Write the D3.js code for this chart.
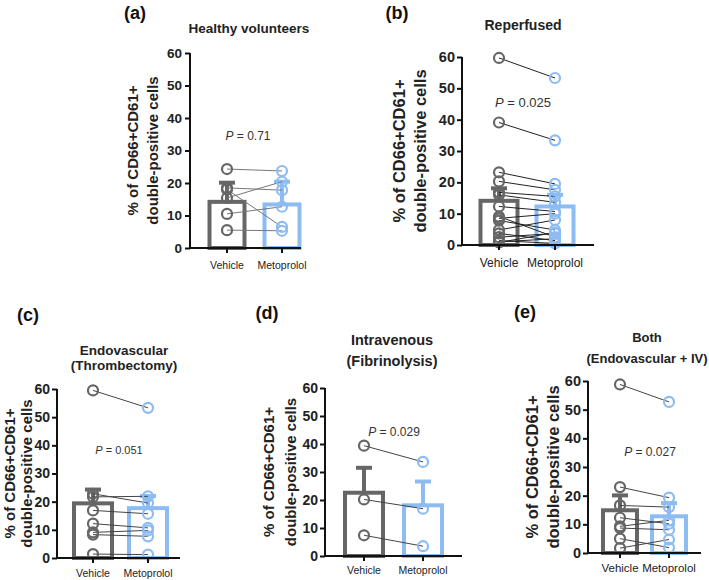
<!DOCTYPE html>
<html><head><meta charset="utf-8">
<script src="https://cdn.jsdelivr.net/npm/d3@7"></script>
<style>body{margin:0;background:#fff}svg{display:block}</style>
</head><body>
<svg id="chart" width="709" height="580"></svg>
<script>
// ---------- data ----------
const groups = ["Vehicle", "Metoprolol"];
const yTicks = [0, 10, 20, 30, 40, 50, 60];

const healthyVehicle    = [24.3, 18.5, 18.0, 15.4, 10.5, 5.5];
const healthyMetoprolol = [23.7, 17.8, 6.5, 20.4, 12.7, 5.3];
const healthyMean = [14.2, 13.4];
const healthyErrTop = [20.1, 20.4];
const healthyP = "0.71";

const reperfVehicle    = [59.7, 39.1, 23.2, 20.3, 16.8, 16.0, 12.3, 9.1, 8.5, 7.8, 4.8, 3.7, 2.5, 1.4, 1.0, 0.8];
const reperfMetoprolol = [53.3, 33.4, 19.5, 17.6, 15.5, 13.6, 10.7, 2.5, 10.0, 4.8, 8.0, 1.4, 3.7, 0.5, 2.0, 4.0];
const reperfMean = [14.1, 12.3];
const reperfErrTop = [18.1, 16.0];
const reperfP = "0.025";

const endoVehicle    = [59.5, 22.8, 21.7, 16.9, 12.2, 9.1, 8.3, 1.4];
const endoMetoprolol = [53.3, 19.5, 21.9, 15.7, 10.7, 9.8, 7.7, 1.2];
const endoMean = [19.4, 17.7];
const endoErrTop = [24.3, 22.0];
const endoP = "0.051";

const ivVehicle    = [39.4, 20.2, 7.4];
const ivMetoprolol = [33.6, 16.9, 3.5];
const ivMean = [22.6, 18.1];
const ivErrTop = [31.5, 26.6];
const ivP = "0.029";

const bothVehicle    = [58.8, 23.0, 16.6, 12.3, 9.3, 8.7, 5.0, 1.7];
const bothMetoprolol = [52.7, 19.3, 16.0, 10.2, 11.4, 8.1, 1.9, 4.7];
const bothMean = [14.9, 12.8];
const bothErrTop = [20.1, 17.4];
const bothP = "0.027";

// ---------- layout ----------
const narrow = "'Liberation Sans Narrow','Liberation Sans',Arial";
const panels = [
  {letter:"(a)", lx:135, ly:13, title:["Healthy volunteers"], tx:249, ty:[28], tFont:13.5,
   x0:190, x1:301, yTop:53, yBot:248, vx:227, mx:282, bw:35, ylx:[132,152], ylFont:15, tkFont:13.5, tkPad:3,
   xlFont:"10.5px", xlFam:narrow, xly:265, px:248, py:136, pFont:"12px",
   v:healthyVehicle, m:healthyMetoprolol, mean:healthyMean, err:healthyErrTop, p:healthyP, line:"#777"},
  {letter:"(b)", lx:397, ly:13, title:["Reperfused"], tx:523, ty:[25], tFont:14,
   x0:462, x1:594, yTop:57, yBot:245, vx:499, mx:555, bw:37, ylx:[399,420], ylFont:16.5, tkFont:14.5, tkPad:2,
   xlFont:"12px", xlFam:"'Liberation Sans',Arial", xly:263, px:523, py:102, pFont:"13px",
   v:reperfVehicle, m:reperfMetoprolol, mean:reperfMean, err:reperfErrTop, p:reperfP, line:"#222"},
  {letter:"(c)", lx:28, ly:315, title:["Endovascular","(Thrombectomy)"], tx:124, ty:[350,365], tFont:13.5,
   x0:57, x1:180, yTop:389, yBot:558, vx:93, mx:148, bw:38, ylx:[9,26], ylFont:15, tkFont:14, tkPad:2,
   xlFont:"10.5px", xlFam:narrow, xly:573, px:119, py:450, pFont:"11px",
   v:endoVehicle, m:endoMetoprolol, mean:endoMean, err:endoErrTop, p:endoP, line:"#444"},
  {letter:"(d)", lx:267, ly:313, title:["Intravenous","(Fibrinolysis)"], tx:392, ty:[340,361], tFont:14.5,
   x0:325, x1:462, yTop:388, yBot:556, vx:364, mx:423, bw:38, ylx:[268,290], ylFont:15, tkFont:14, tkPad:2,
   xlFont:"10.5px", xlFam:narrow, xly:570, px:394, py:432, pFont:"12px",
   v:ivVehicle, m:ivMetoprolol, mean:ivMean, err:ivErrTop, p:ivP, line:"#444"},
  {letter:"(e)", lx:525, ly:312, title:["Both","(Endovascular + IV)"], tx:647, ty:[337,358], tFont:13,
   x0:588, x1:701, yTop:381, yBot:553, vx:620, mx:669, bw:34, ylx:[532,553], ylFont:16.5, tkFont:14.5, tkPad:2,
   xlFont:"11.5px", xlFam:narrow, xly:568, px:650, py:452, pFont:"12px",
   v:bothVehicle, m:bothMetoprolol, mean:bothMean, err:bothErrTop, p:bothP, line:"#444"}
];

const colors = ["#666666", "#8dbcf3"];
const svg = d3.select("#chart");
const font = "'Liberation Sans', Arial, sans-serif";

panels.forEach(P => {
  const g = svg.append("g");
  const y = d3.scaleLinear().domain([0, 60]).range([P.yBot, P.yTop]);
  const x = d3.scaleOrdinal().domain(groups).range([P.vx, P.mx]);

  // letter & title
  g.append("text").attr("x", P.lx).attr("y", P.ly).attr("text-anchor","middle")
    .attr("dominant-baseline","central").style("font", "bold 18px " + font).attr("fill","#111").text(P.letter);
  P.title.forEach((t, i) => {
    g.append("text").attr("x", P.tx).attr("y", P.ty[i]).attr("text-anchor","middle")
      .attr("dominant-baseline","central").style("font", `bold ${P.tFont}px ` + font).attr("fill","#222").text(t);
  });

  // y label
  const ymid = (P.yTop + P.yBot) / 2;
  ["% of CD66+CD61+", "double-positive cells"].forEach((t, i) => {
    g.append("text").attr("transform", `translate(${P.ylx[i]},${ymid}) rotate(-90)`)
      .attr("text-anchor","middle").attr("dominant-baseline","central")
      .style("font", `bold ${P.ylFont}px ` + font).attr("fill","#222").text(t);
  });

  // bars
  groups.forEach((grp, i) => {
    const cx = x(grp);
    g.append("rect").attr("x", cx - P.bw/2).attr("y", y(P.mean[i]))
      .attr("width", P.bw).attr("height", y(0) - y(P.mean[i]))
      .attr("fill","#fff").attr("stroke", colors[i]).attr("stroke-width", 4);
    g.append("line").attr("x1", cx).attr("x2", cx).attr("y1", y(P.mean[i])).attr("y2", y(P.err[i]))
      .attr("stroke", colors[i]).attr("stroke-width", 4);
    g.append("line").attr("x1", cx - 8).attr("x2", cx + 8).attr("y1", y(P.err[i])).attr("y2", y(P.err[i]))
      .attr("stroke", colors[i]).attr("stroke-width", 4);
  });

  // paired lines
  P.v.forEach((val, k) => {
    g.append("line").attr("x1", x("Vehicle")).attr("y1", y(val))
      .attr("x2", x("Metoprolol")).attr("y2", y(P.m[k]))
      .attr("stroke", P.line).attr("stroke-width", 1);
  });

  // points
  [P.v, P.m].forEach((arr, i) => {
    g.selectAll(null).data(arr).enter().append("circle")
      .attr("cx", x(groups[i])).attr("cy", d => y(d)).attr("r", 5)
      .attr("fill","none").attr("stroke", colors[i]).attr("stroke-width", 2.2);
  });

  // axes
  const yAxis = d3.axisLeft(y).tickValues(yTicks).tickSize(5).tickPadding(P.tkPad);
  const ya = g.append("g").attr("transform", `translate(${P.x0},0)`).call(yAxis);
  ya.select(".domain").attr("stroke","#111").attr("stroke-width",2).attr("d", `M0,${P.yTop}V${P.yBot}`);
  ya.selectAll(".tick line").attr("stroke","#111").attr("stroke-width",2);
  ya.selectAll(".tick text").style("font",`bold ${P.tkFont}px ` + font).attr("fill","#222");

  g.append("line").attr("x1", P.x0 - 1).attr("x2", P.x1).attr("y1", P.yBot).attr("y2", P.yBot)
    .attr("stroke","#111").attr("stroke-width",2);
  groups.forEach(grp => {
    g.append("line").attr("x1", x(grp)).attr("x2", x(grp)).attr("y1", P.yBot).attr("y2", P.yBot + 5)
      .attr("stroke","#111").attr("stroke-width",2);
    g.append("text").attr("x", x(grp)).attr("y", P.xly).attr("text-anchor","middle")
      .attr("dominant-baseline","central").style("font", P.xlFont + " " + P.xlFam).attr("fill","#222").text(grp);
  });

  // p value
  const pt = g.append("text").attr("x", P.px).attr("y", P.py).attr("text-anchor","middle")
    .attr("dominant-baseline","central").style("font", P.pFont + " " + font).attr("fill","#333");
  pt.append("tspan").style("font-style","italic").text("P");
  pt.append("tspan").text(" = " + P.p);
});
</script>
</body></html>
